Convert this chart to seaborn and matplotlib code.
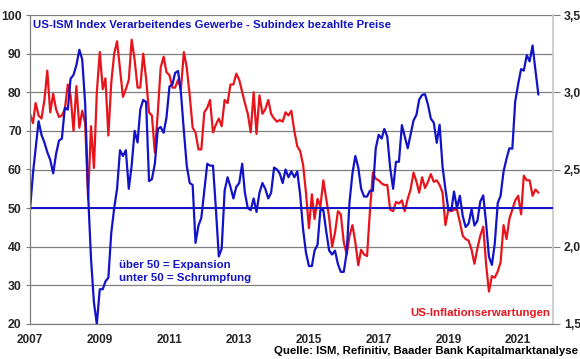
import numpy as np
import pandas as pd
import matplotlib
matplotlib.use('Agg')
import matplotlib.pyplot as plt
import matplotlib.dates as mdates
from matplotlib.ticker import MultipleLocator, FuncFormatter
import seaborn as sns

# monthly data Jan 2007 - Aug 2021
months = pd.date_range('2007-01-01', periods=176, freq='MS')
tick_years = [2007, 2009, 2011, 2013, 2015, 2017, 2019, 2021]

# ISM manufacturing, prices paid (left axis)
ism_prices = [
    49.5, 59.0, 65.5, 72.5, 69.0, 67.0, 64.5, 62.5, 59.0, 64.0, 67.5, 68.0,
    76.0, 75.5, 83.5, 84.5, 87.0, 91.0, 88.5, 77.0, 53.5, 37.0, 25.5, 20.0,
    29.0, 29.0, 31.0, 32.0, 43.5, 50.0, 55.0, 65.0, 63.5, 65.0, 55.0, 61.0,
    70.0, 67.0, 75.5, 78.0, 77.5, 57.0, 57.5, 61.5, 70.5, 71.0, 69.5, 73.5,
    81.5, 82.0, 85.0, 85.5, 80.0, 70.0, 61.0, 56.5, 56.0, 41.0, 45.5, 47.5,
    54.5, 61.5, 61.0, 61.0, 50.0, 37.5, 39.5, 54.5, 58.0, 55.5, 52.5, 55.5,
    56.5, 61.5, 54.0, 50.0, 49.5, 52.5, 49.0, 54.0, 56.5, 55.0, 52.5, 54.0,
    60.5, 60.0, 59.0, 56.5, 60.0, 58.0, 59.5, 58.0, 59.5, 53.5, 44.5, 38.5,
    35.0, 35.0, 39.0, 40.5, 49.5, 49.5, 44.0, 39.0, 38.0, 39.0, 35.5, 33.5,
    33.5, 38.5, 51.5, 59.0, 63.5, 60.5, 55.0, 53.0, 53.0, 54.5, 54.5, 65.5,
    69.0, 68.0, 70.5, 68.5, 60.5, 55.0, 62.0, 62.0, 71.5, 68.5, 65.5, 69.0,
    72.7, 74.2, 78.1, 79.3, 79.5, 76.8, 73.2, 72.1, 66.9, 71.6, 60.7, 54.9,
    49.6, 49.4, 54.3, 50.0, 53.2, 47.9, 45.1, 46.0, 49.7, 45.5, 46.7, 51.7,
    53.3, 45.9, 37.4, 35.3, 40.8, 51.3, 53.2, 59.5, 62.8, 65.5, 65.4, 77.6,
    82.1, 86.0, 85.6, 89.6, 88.0, 92.1, 85.7, 79.4,
]

# US inflation expectations in % (right axis)
infl_exp = [
    2.86, 2.80, 2.93, 2.85, 2.83, 2.95, 3.14, 2.87, 2.99, 2.89, 2.84, 2.85,
    2.89, 3.05, 2.98, 2.75, 3.04, 2.77, 2.88, 2.80, 2.31, 2.78, 2.51, 3.00,
    3.26, 3.02, 3.09, 2.72, 3.06, 3.25, 3.33, 3.15, 2.97, 3.02, 3.08, 3.34,
    3.21, 3.03, 3.03, 3.25, 3.09, 2.87, 2.85, 2.61, 2.87, 3.16, 3.23, 3.13,
    3.11, 3.03, 3.03, 3.08, 3.02, 3.26, 3.16, 2.98, 2.77, 2.74, 2.63, 2.63,
    2.87, 2.90, 2.95, 2.74, 2.79, 2.83, 2.78, 2.95, 2.93, 3.05, 3.05, 3.12,
    3.08, 3.00, 2.93, 2.86, 2.74, 3.00, 2.73, 2.98, 2.86, 2.89, 2.95, 2.86,
    2.83, 2.81, 2.82, 2.81, 2.87, 2.85, 2.88, 2.75, 2.65, 2.62, 2.53, 2.35,
    2.12, 2.34, 2.18, 2.31, 2.26, 2.43, 2.31, 2.19, 2.00, 2.09, 2.23, 2.21,
    2.03, 1.95, 2.07, 2.14, 2.03, 1.88, 1.98, 1.95, 1.94, 2.23, 2.48, 2.44,
    2.43, 2.41, 2.40, 2.40, 2.24, 2.23, 2.29, 2.28, 2.30, 2.23, 2.31, 2.37,
    2.48, 2.42, 2.35, 2.45, 2.38, 2.42, 2.47, 2.42, 2.43, 2.40, 2.35, 2.14,
    2.24, 2.23, 2.24, 2.24, 2.16, 2.07, 2.05, 2.04, 1.98, 1.89, 1.99, 2.07,
    2.13, 1.88, 1.71, 1.81, 1.80, 1.84, 1.90, 2.14, 2.05, 2.18, 2.24, 2.30,
    2.33, 2.21, 2.46, 2.43, 2.43, 2.33, 2.37, 2.35,
]

df = pd.DataFrame({'Datum': months, 'ISM': ism_prices, 'Inflation': infl_exp})

BLUE = '#1212c8'
RED = '#e8141c'
GRID = '#7f7f7f'

sns.set_theme(style='white')
plt.rcParams['font.family'] = ['Liberation Sans', 'DejaVu Sans']
plt.rcParams['font.weight'] = 'bold'

fig = plt.figure(figsize=(5.8, 3.59), dpi=100)
ax = fig.add_axes([30 / 580, 1 - 324 / 359, 523 / 580, 309 / 359])
ax2 = ax.twinx()

# red on the right axis, blue on the left axis drawn on top
sns.lineplot(data=df, x='Datum', y='Inflation', ax=ax2, color=RED, lw=1.6)
sns.lineplot(data=df, x='Datum', y='ISM', ax=ax, color=BLUE, lw=1.6)
ax.axhline(50, color=BLUE, lw=1.4)

ax.set_zorder(ax2.get_zorder() + 1)
ax.patch.set_visible(False)

ax.set_xlim(pd.Timestamp('2007-01-01'), pd.Timestamp('2022-01-01'))
ax.set_ylim(20, 100)
ax2.set_ylim(1.5, 3.5)

ax.set_xticks([pd.Timestamp(f'{y}-01-01') for y in tick_years])
ax.xaxis.set_major_formatter(mdates.DateFormatter('%Y'))
ax.yaxis.set_major_locator(MultipleLocator(10))
ax2.yaxis.set_major_locator(MultipleLocator(0.5))
ax2.yaxis.set_minor_locator(MultipleLocator(0.25))
ax2.yaxis.set_major_formatter(FuncFormatter(lambda v, p: f'{v:.1f}'.replace('.', ',')))

ax2.grid(which='both', axis='y', color=GRID, lw=0.9)
ax.grid(False)

ax.set_xlabel('')
ax.set_ylabel('')
ax2.set_ylabel('')

ax.tick_params(axis='x', length=3, width=0.8, color=GRID, pad=4, labelsize=8.5)
ax.tick_params(axis='y', length=3, width=0.8, color=GRID, pad=3, labelsize=8.8)
ax2.tick_params(axis='y', which='major', length=5, width=0.8, color=GRID, pad=3, labelsize=8.8)
ax2.tick_params(axis='y', which='minor', length=0)
for lab in ax.get_xticklabels() + ax.get_yticklabels() + ax2.get_yticklabels():
    lab.set_fontweight('bold')

for s in ['top', 'right']:
    ax.spines[s].set_visible(False)
for s in ['left', 'bottom']:
    ax.spines[s].set_color(GRID)
    ax.spines[s].set_linewidth(0.9)
for s in ['top', 'left', 'bottom']:
    ax2.spines[s].set_visible(False)
ax2.spines['right'].set_color('#c8c8c8')

ax.text(0.005, 0.968, 'US-ISM Index Verarbeitendes Gewerbe - Subindex bezahlte Preise',
        transform=ax.transAxes, color=BLUE, fontsize=8.2, fontweight='bold', va='center')
ax.text(0.171, 0.191, 'über 50 = Expansion', transform=ax.transAxes,
        color=BLUE, fontsize=8.2, fontweight='bold', va='center')
ax.text(0.171, 0.149, 'unter 50 = Schrumpfung', transform=ax.transAxes,
        color=BLUE, fontsize=8.2, fontweight='bold', va='center')
ax.text(0.995, 0.036, 'US-Inflationserwartungen', transform=ax.transAxes,
        color=RED, fontsize=8.2, fontweight='bold', va='center', ha='right')
fig.text(0.997, 1 - 351 / 359, 'Quelle: ISM, Refinitiv, Baader Bank Kapitalmarktanalyse',
         color='black', fontsize=8.2, fontweight='bold', va='center', ha='right')

fig.savefig('out.png', dpi=100)
